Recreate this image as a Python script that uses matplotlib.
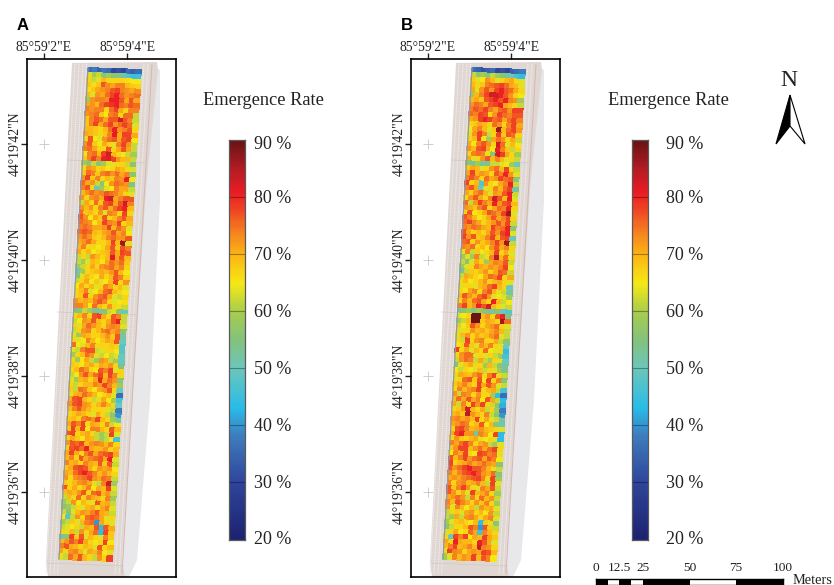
import numpy as np
import matplotlib
matplotlib.use('Agg')
import matplotlib.pyplot as plt
from matplotlib.colors import LinearSegmentedColormap
from matplotlib.collections import LineCollection
from matplotlib.patches import Polygon

plt.rcParams['font.family'] = ['Liberation Serif', 'DejaVu Serif']

W, H = 834, 585

LON_TICKS = [2, 4]
LON_LABELS = ['85°59\'2"E', '85°59\'4"E']
LAT_TICKS = [42, 40, 38, 36]
LAT_LABELS = ['44°19\'42"N', '44°19\'40"N', '44°19\'38"N', '44°19\'36"N']
RATE_TICKS = [90, 80, 70, 60, 50, 40, 30, 20]
SCALE_TICKS = [0, 12.5, 25, 50, 75, 100]
SCALE_LABELS = ['0', '12.5', '25', '50', '75', '100']
SCALE_BLACK = [(0, 6.25), (12.5, 6.25), (25, 25), (75, 25)]

CMAP_STOPS = [(20, '#1d2370'), (30, '#2f469c'), (38, '#3e7cbd'), (43, '#29bce9'),
              (50, '#6cc7bb'), (55, '#84c27c'), (60, '#a9cd4f'), (65, '#f5e914'),
              (70, '#fdb515'), (74, '#f58220'), (78, '#ef4423'), (81, '#ec1c24'),
              (85, '#b51d24'), (90, '#6b1414')]

# my first reading of the cells ran too far towards red, this pulls it back
READ_FROM = [20, 56, 60, 66, 72, 76, 82, 86, 90]
READ_TO = [20, 56, 62, 67, 71, 74, 78, 83, 90]

# emergence rate per cell (row 0 = north end)
EMERGENCE_A = [
    [36, 38, 34, 37, 36, 30, 32, 30, 36, 34, 36],
    [62, 58, 60, 56, 58, 56, 56, 52, 48, 45, 45],
    [66, 60, 62, 70, 66, 66, 66, 66, 65, 64, 64],
    [68, 65, 68, 80, 75, 72, 76, 76, 70, 68, 66],
    [65, 68, 72, 74, 76, 80, 82, 76, 74, 72, 75],
    [70, 62, 74, 72, 78, 82, 84, 78, 74, 76, 78],
    [58, 74, 76, 76, 74, 84, 84, 80, 72, 80, 72],
    [72, 74, 70, 78, 82, 83, 84, 78, 76, 80, 78],
    [76, 74, 76, 76, 66, 78, 82, 72, 66, 76, 76],
    [74, 76, 78, 68, 64, 76, 78, 66, 78, 78, 60],
    [68, 76, 80, 78, 72, 80, 80, 86, 80, 76, 60],
    [68, 76, 82, 72, 78, 82, 74, 78, 82, 78, 62],
    [70, 70, 68, 66, 70, 78, 84, 74, 76, 80, 66],
    [72, 70, 68, 66, 68, 76, 85, 72, 82, 82, 72],
    [66, 80, 64, 62, 74, 78, 80, 72, 80, 82, 64],
    [74, 80, 68, 64, 72, 66, 62, 76, 82, 74, 60],
    [76, 78, 72, 66, 66, 80, 66, 72, 80, 72, 60],
    [64, 76, 78, 70, 82, 86, 70, 66, 64, 60, 58],
    [68, 76, 82, 76, 84, 85, 82, 74, 70, 70, 60],
    [58, 56, 60, 56, 58, 62, 62, 66, 66, 60, 56],
    [66, 74, 72, 66, 68, 64, 66, 72, 70, 66, 62],
    [68, 78, 76, 68, 76, 78, 74, 78, 72, 76, 56],
    [74, 82, 68, 76, 66, 70, 68, 76, 74, 84, 64],
    [78, 72, 74, 60, 56, 64, 74, 78, 76, 74, 54],
    [76, 80, 66, 50, 58, 62, 64, 76, 72, 72, 60],
    [70, 74, 78, 74, 76, 80, 78, 76, 72, 66, 62],
    [74, 66, 74, 76, 72, 84, 86, 72, 76, 80, 80],
    [60, 72, 66, 78, 68, 80, 82, 72, 80, 86, 76],
    [74, 70, 74, 66, 76, 80, 72, 78, 82, 84, 70],
    [78, 68, 70, 66, 74, 62, 76, 74, 66, 82, 66],
    [80, 74, 64, 72, 68, 80, 66, 70, 76, 80, 72],
    [78, 76, 74, 64, 70, 82, 76, 74, 82, 66, 70],
    [76, 78, 76, 72, 72, 74, 82, 70, 78, 74, 62],
    [78, 80, 78, 70, 68, 72, 74, 80, 72, 76, 64],
    [74, 78, 74, 68, 66, 70, 76, 78, 74, 74, 80],
    [72, 74, 78, 72, 66, 66, 70, 82, 70, 88, 62],
    [70, 76, 66, 66, 64, 66, 72, 80, 68, 80, 76],
    [72, 66, 70, 64, 66, 68, 70, 80, 72, 82, 80],
    [60, 66, 60, 74, 70, 66, 70, 85, 72, 80, 70],
    [60, 58, 62, 70, 68, 64, 72, 78, 74, 78, 68],
    [58, 60, 66, 72, 66, 74, 76, 78, 72, 76, 66],
    [52, 58, 66, 68, 70, 72, 70, 74, 80, 70, 64],
    [56, 62, 70, 66, 64, 72, 66, 70, 80, 76, 66],
    [60, 66, 72, 64, 68, 62, 64, 70, 82, 66, 74],
    [64, 72, 66, 70, 62, 66, 76, 72, 66, 70, 62],
    [66, 70, 76, 62, 64, 70, 78, 80, 70, 66, 64],
    [66, 68, 80, 66, 74, 78, 80, 72, 62, 60, 66],
    [74, 70, 72, 70, 76, 80, 76, 66, 62, 64, 65],
    [76, 76, 72, 64, 78, 70, 66, 74, 66, 65, 60],
    [54, 56, 60, 58, 54, 52, 56, 60, 62, 56, 50],
    [66, 70, 76, 66, 80, 82, 72, 66, 80, 76, 60],
    [60, 64, 74, 72, 80, 70, 66, 72, 80, 84, 60],
    [66, 62, 72, 78, 74, 70, 66, 74, 76, 74, 62],
    [60, 66, 74, 76, 66, 70, 76, 78, 72, 76, 56],
    [62, 58, 72, 70, 66, 66, 70, 74, 68, 80, 52],
    [66, 62, 64, 76, 70, 64, 68, 72, 70, 80, 50],
    [78, 64, 62, 70, 76, 66, 66, 66, 68, 66, 48],
    [62, 60, 76, 80, 80, 60, 62, 66, 66, 64, 48],
    [58, 66, 70, 78, 74, 62, 60, 64, 60, 62, 50],
    [66, 58, 64, 72, 60, 58, 74, 72, 60, 58, 50],
    [68, 66, 64, 70, 72, 66, 72, 70, 74, 66, 54],
    [66, 70, 78, 74, 66, 64, 80, 76, 82, 62, 66],
    [60, 64, 74, 80, 72, 78, 82, 70, 82, 76, 66],
    [62, 58, 70, 72, 66, 72, 84, 72, 78, 74, 56],
    [66, 60, 66, 70, 70, 76, 74, 82, 76, 70, 58],
    [68, 60, 78, 76, 68, 64, 72, 74, 80, 66, 50],
    [62, 70, 72, 78, 74, 70, 64, 66, 70, 62, 36],
    [72, 80, 82, 70, 66, 60, 62, 72, 64, 58, 46],
    [74, 80, 82, 74, 72, 66, 70, 76, 70, 66, 50],
    [70, 76, 80, 74, 70, 66, 66, 66, 62, 60, 38],
    [66, 68, 72, 70, 66, 62, 72, 66, 60, 56, 40],
    [68, 70, 66, 76, 78, 74, 82, 70, 66, 58, 52],
    [72, 80, 76, 82, 66, 72, 70, 66, 76, 60, 64],
    [68, 82, 70, 82, 64, 76, 76, 70, 66, 80, 70],
    [80, 82, 66, 70, 72, 66, 60, 58, 60, 82, 62],
    [66, 72, 68, 64, 72, 70, 60, 58, 60, 64, 46],
    [74, 80, 78, 82, 70, 74, 76, 74, 70, 76, 66],
    [66, 80, 82, 78, 84, 72, 70, 70, 74, 66, 70],
    [72, 82, 72, 66, 76, 80, 72, 78, 80, 82, 72],
    [70, 76, 66, 80, 72, 76, 78, 80, 72, 84, 62],
    [76, 70, 72, 66, 76, 72, 70, 80, 68, 80, 60],
    [68, 72, 80, 82, 80, 72, 66, 74, 72, 74, 64],
    [72, 70, 78, 82, 84, 80, 76, 70, 74, 70, 66],
    [74, 66, 74, 76, 78, 82, 74, 72, 78, 76, 60],
    [68, 66, 70, 74, 76, 72, 62, 60, 76, 86, 58],
    [80, 66, 72, 66, 70, 76, 64, 72, 70, 82, 62],
    [70, 72, 70, 74, 80, 66, 78, 80, 70, 74, 60],
    [60, 70, 66, 78, 66, 76, 72, 70, 66, 76, 58],
    [58, 60, 74, 64, 70, 66, 62, 80, 70, 72, 60],
    [56, 58, 60, 66, 62, 70, 72, 66, 72, 76, 62],
    [60, 56, 62, 70, 74, 72, 76, 80, 72, 70, 60],
    [64, 48, 60, 74, 66, 78, 80, 78, 72, 62, 66],
    [58, 60, 68, 62, 70, 76, 78, 40, 72, 66, 62],
    [60, 62, 64, 66, 60, 72, 70, 80, 44, 80, 72],
    [66, 62, 70, 60, 74, 66, 72, 78, 44, 82, 68],
    [52, 56, 82, 68, 80, 62, 70, 66, 62, 76, 68],
    [70, 74, 80, 76, 82, 72, 66, 64, 66, 82, 64],
    [76, 80, 72, 70, 66, 70, 68, 62, 80, 66, 70],
    [72, 66, 74, 76, 70, 62, 72, 70, 76, 64, 62],
    [62, 60, 78, 72, 80, 70, 66, 60, 74, 66, 82],
]

EMERGENCE_B = [
    [36, 34, 32, 34, 36, 30, 32, 30, 34, 36, 38],
    [60, 56, 58, 56, 60, 58, 56, 54, 50, 46, 44],
    [68, 62, 64, 74, 70, 62, 66, 70, 72, 66, 62],
    [70, 66, 68, 76, 78, 80, 82, 78, 72, 70, 62],
    [72, 62, 74, 80, 74, 82, 84, 80, 78, 72, 66],
    [58, 70, 76, 82, 86, 86, 84, 80, 74, 66, 64],
    [70, 72, 68, 80, 82, 84, 80, 84, 76, 74, 58],
    [74, 78, 76, 72, 80, 82, 84, 72, 70, 66, 60],
    [76, 80, 78, 82, 76, 72, 78, 80, 74, 82, 82],
    [78, 76, 82, 80, 66, 74, 82, 78, 76, 80, 80],
    [72, 74, 82, 84, 82, 78, 80, 72, 78, 82, 76],
    [66, 68, 72, 70, 66, 78, 74, 66, 76, 82, 72],
    [64, 72, 76, 70, 62, 68, 88, 70, 78, 82, 74],
    [62, 74, 82, 76, 60, 66, 82, 68, 80, 78, 66],
    [66, 70, 82, 64, 58, 72, 78, 74, 66, 72, 60],
    [72, 64, 76, 80, 74, 66, 86, 78, 62, 70, 64],
    [74, 70, 80, 82, 72, 64, 84, 76, 68, 60, 66],
    [66, 76, 78, 76, 62, 56, 86, 82, 72, 66, 58],
    [72, 62, 66, 74, 80, 70, 76, 70, 62, 66, 60],
    [56, 54, 58, 52, 54, 60, 60, 62, 64, 58, 50],
    [68, 72, 70, 62, 66, 74, 78, 70, 82, 66, 60],
    [72, 82, 70, 74, 72, 66, 80, 76, 84, 74, 62],
    [76, 80, 76, 66, 78, 72, 74, 82, 78, 80, 56],
    [82, 66, 70, 48, 74, 66, 64, 72, 76, 84, 60],
    [76, 80, 72, 50, 62, 66, 76, 70, 78, 82, 52],
    [72, 66, 74, 78, 70, 62, 74, 72, 80, 84, 60],
    [66, 74, 80, 72, 66, 76, 86, 80, 70, 84, 62],
    [78, 60, 74, 82, 76, 72, 84, 74, 80, 82, 70],
    [74, 72, 68, 76, 80, 66, 72, 78, 76, 84, 66],
    [66, 80, 64, 66, 72, 80, 78, 74, 82, 88, 62],
    [80, 76, 70, 64, 66, 72, 80, 72, 76, 82, 66],
    [78, 82, 76, 72, 66, 70, 74, 80, 74, 82, 60],
    [76, 74, 78, 76, 72, 70, 82, 76, 78, 84, 56],
    [80, 72, 66, 70, 66, 72, 80, 74, 82, 84, 62],
    [82, 74, 80, 68, 70, 76, 82, 70, 80, 82, 50],
    [78, 80, 66, 74, 68, 72, 76, 82, 74, 88, 60],
    [76, 74, 78, 66, 70, 64, 74, 80, 72, 76, 66],
    [62, 76, 60, 68, 64, 66, 70, 82, 66, 72, 62],
    [58, 62, 58, 76, 60, 62, 76, 87, 70, 78, 66],
    [60, 56, 62, 72, 66, 58, 72, 76, 74, 80, 60],
    [58, 62, 66, 76, 72, 70, 74, 72, 76, 82, 64],
    [54, 60, 68, 66, 70, 74, 66, 72, 80, 78, 60],
    [60, 72, 70, 66, 64, 72, 78, 76, 82, 66, 72],
    [66, 70, 64, 66, 70, 74, 66, 70, 72, 66, 62],
    [62, 66, 66, 62, 70, 72, 78, 82, 70, 66, 50],
    [66, 64, 72, 76, 66, 76, 80, 70, 62, 60, 52],
    [70, 80, 74, 70, 78, 82, 74, 62, 64, 62, 58],
    [66, 76, 70, 78, 80, 72, 66, 84, 70, 60, 64],
    [76, 82, 70, 74, 84, 80, 86, 70, 66, 62, 60],
    [54, 56, 58, 54, 58, 56, 54, 52, 56, 50, 48],
    [62, 64, 66, 90, 90, 70, 74, 66, 80, 84, 54],
    [58, 60, 70, 90, 90, 68, 72, 70, 66, 88, 78],
    [60, 64, 68, 80, 74, 66, 72, 74, 78, 66, 62],
    [66, 62, 66, 74, 70, 72, 68, 72, 76, 70, 60],
    [62, 70, 74, 66, 72, 68, 70, 74, 78, 62, 60],
    [66, 60, 82, 66, 74, 76, 66, 66, 72, 60, 56],
    [64, 66, 80, 68, 62, 74, 70, 76, 66, 62, 50],
    [82, 66, 72, 62, 70, 66, 78, 64, 62, 66, 44],
    [66, 74, 78, 78, 62, 66, 62, 66, 60, 58, 46],
    [60, 74, 78, 76, 60, 72, 60, 58, 66, 62, 50],
    [56, 62, 68, 72, 66, 66, 58, 70, 60, 56, 52],
    [64, 60, 66, 64, 62, 70, 60, 66, 62, 58, 54],
    [66, 72, 70, 68, 74, 78, 66, 76, 82, 66, 60],
    [62, 66, 78, 80, 68, 80, 64, 82, 66, 76, 56],
    [68, 72, 76, 70, 66, 82, 72, 80, 74, 62, 60],
    [66, 76, 70, 74, 76, 82, 66, 70, 72, 60, 46],
    [74, 60, 76, 74, 66, 74, 66, 66, 58, 44, 36],
    [70, 78, 72, 80, 72, 76, 64, 80, 72, 60, 44],
    [72, 60, 76, 66, 82, 74, 82, 66, 60, 56, 42],
    [66, 68, 74, 86, 70, 66, 72, 60, 66, 58, 38],
    [70, 72, 68, 87, 74, 70, 66, 76, 60, 56, 40],
    [74, 76, 72, 74, 70, 82, 66, 72, 62, 60, 52],
    [72, 74, 78, 76, 66, 70, 80, 64, 70, 56, 50],
    [66, 80, 82, 76, 70, 72, 74, 70, 68, 66, 62],
    [72, 82, 84, 74, 74, 52, 76, 72, 64, 82, 44],
    [66, 74, 68, 66, 70, 72, 62, 64, 66, 62, 44],
    [76, 72, 78, 82, 76, 66, 72, 74, 60, 58, 62],
    [68, 74, 82, 82, 70, 74, 78, 72, 78, 82, 66],
    [64, 76, 72, 82, 66, 64, 82, 80, 76, 78, 62],
    [80, 70, 76, 82, 74, 78, 80, 72, 80, 76, 64],
    [82, 66, 70, 72, 76, 72, 74, 78, 74, 72, 56],
    [80, 74, 78, 82, 84, 80, 80, 76, 70, 62, 60],
    [76, 70, 76, 80, 82, 84, 80, 74, 72, 78, 56],
    [72, 74, 72, 76, 78, 80, 82, 76, 66, 82, 58],
    [76, 66, 74, 76, 70, 72, 76, 70, 60, 82, 62],
    [80, 68, 76, 82, 74, 66, 62, 76, 72, 80, 60],
    [80, 74, 66, 72, 62, 82, 70, 72, 76, 66, 58],
    [72, 74, 78, 74, 60, 76, 66, 78, 70, 74, 60],
    [76, 70, 80, 76, 72, 66, 74, 68, 76, 66, 58],
    [74, 62, 76, 70, 64, 70, 60, 74, 70, 72, 62],
    [60, 66, 68, 62, 72, 74, 66, 70, 64, 74, 60],
    [60, 58, 72, 60, 74, 76, 72, 66, 72, 76, 62],
    [58, 62, 68, 70, 66, 64, 70, 44, 68, 62, 56],
    [56, 60, 66, 66, 70, 80, 76, 40, 80, 68, 60],
    [62, 66, 72, 64, 66, 78, 72, 46, 76, 70, 66],
    [66, 50, 82, 76, 82, 64, 72, 70, 82, 72, 68],
    [72, 66, 84, 72, 70, 70, 66, 84, 80, 72, 62],
    [70, 76, 82, 70, 72, 76, 70, 86, 76, 74, 66],
    [66, 82, 76, 74, 66, 72, 74, 72, 82, 80, 70],
    [58, 62, 76, 70, 74, 72, 82, 70, 80, 76, 64],
]

cmap = LinearSegmentedColormap.from_list(
    'emergence', [((v - 20) / 70, c) for v, c in CMAP_STOPS])


def axes_px(fig, left, top, right, bottom):
    return fig.add_axes([left / W, 1 - bottom / H, (right - left) / W, (bottom - top) / H])


def draw_panel(fig, left, rates, letter):
    ax = axes_px(fig, left, 59, left + 149, 577)
    # arcsec scale: 41.5 px per lon second, 58 px per lat second
    ax.set_xlim(2 - 17 / 41.5, 2 + 132 / 41.5)
    ax.set_ylim(36 - 85 / 58, 42 + 85 / 58)

    def to_xy(pts):
        pts = np.asarray(pts, dtype=float)
        return np.column_stack([2 + (pts[:, 0] - 44) / 41.5, 42 - (pts[:, 1] - 144) / 58])

    # field background, positions in panel A pixels
    grey = [(148, 64), (160, 70), (160, 200), (150, 400), (137, 560), (129, 577), (112, 577)]
    tan = [(72, 63), (157, 62), (158, 70), (146, 190), (132, 400), (122, 560), (125, 577),
           (48, 577), (46, 562)]
    ax.add_patch(Polygon(to_xy(grey), fc='#e8e8ea', ec='none', zorder=1))
    ax.add_patch(Polygon(to_xy(tan), fc='#e0d7d3', ec='none', zorder=1))

    # drill rows either side of the strip
    segs = []
    for off in [-13, -9, -5, -1 - 0.5]:
        segs.append(to_xy([(88 + off, 64), (59 + off, 574)]))
    for off in [3, 7]:
        segs.append(to_xy([(141 + off, 64), (112 + off, 574)]))
    ax.add_collection(LineCollection(segs, colors='#f1eeec', linewidths=0.8,
                                     linestyles=(0, (1.2, 0.8)), zorder=2))
    side = [to_xy([(152, 64), (122, 574)])]
    ax.add_collection(LineCollection(side, colors='#d6b5b0', linewidths=0.7, zorder=2))
    cross = [to_xy([(67, 160), (147, 163)]), to_xy([(57, 312), (137, 315)]),
             to_xy([(47, 563), (124, 566)])]
    ax.add_collection(LineCollection(cross, colors='#cfc8c4', linewidths=0.5, zorder=2))

    # sheared cell grid of the sown strip
    c = np.interp(np.asarray(rates, dtype=float), READ_FROM, READ_TO)
    nrow, ncol = c.shape
    jj, ii = np.meshgrid(np.arange(nrow + 1), np.arange(ncol + 1), indexing='ij')
    px_x = 88 + ii * 53 / ncol - jj * 29 / nrow
    px_y = 68 + ii * 2 / ncol + jj * 491 / nrow
    xy = to_xy(np.column_stack([px_x.ravel(), px_y.ravel()]))
    ax.pcolormesh(xy[:, 0].reshape(px_x.shape), xy[:, 1].reshape(px_y.shape), c,
                  cmap=cmap, vmin=20, vmax=90, shading='flat', zorder=3,
                  edgecolors='face', linewidth=0.1)
    ax.plot(*to_xy([(88, 68), (59, 559)]).T, color='#8f97b5', lw=0.9, zorder=4)

    # graticule crosses
    ax.plot([2] * 4, LAT_TICKS, ls='none', marker='+', ms=7, mew=0.6, color='#c8c8c8', zorder=2)

    ax.xaxis.tick_top()
    ax.set_xticks(LON_TICKS, LON_LABELS)
    ax.set_yticks(LAT_TICKS, LAT_LABELS)
    ax.tick_params(axis='x', length=4, width=1, labelsize=9.8, pad=-0.5, colors='#222222')
    ax.tick_params(axis='y', length=4, width=1, labelsize=9.8, pad=-0.5, colors='#222222')
    for t in ax.get_yticklabels():
        t.set_rotation(90)
        t.set_va('center')
    for s in ax.spines.values():
        s.set_linewidth(1.2)
    fig.text((left - 10) / W, 1 - 30 / H, letter, fontsize=12, fontweight='bold',
             family='Liberation Sans', va='baseline', ha='left')
    return ax


def draw_colorbar(fig, left, title_x):
    ax = axes_px(fig, left, 140, left + 15.5, 539.5)
    levels = np.linspace(20, 90, 281)
    ax.imshow(levels[::-1, None], cmap=cmap, vmin=20, vmax=90, aspect='auto',
              extent=[0, 1, 20, 90], interpolation='bilinear')
    ax.hlines(RATE_TICKS[1:-1], 0, 1, colors='black', alpha=0.35, lw=0.8)
    ax.set_xticks([])
    ax.set_yticks([])
    for s in ax.spines.values():
        s.set_linewidth(0.9)
        s.set_color('#5a5a5a')
    for v in RATE_TICKS:
        # end labels sit slightly inside the bar ends
        dy = -4 if v == 90 else (0 if v == 20 else -1)
        ax.annotate(f'{v} %', xy=(1, v), xycoords=('axes fraction', 'data'),
                    xytext=(left_gap[left], dy), textcoords='offset pixels',
                    ha='left', va='center', fontsize=13, color='#222222', annotation_clip=False)
    fig.text(title_x / W, 1 - 100 / H, 'Emergence Rate', fontsize=13.2, color='#222222',
             ha='left', va='center')


left_gap = {229: 10, 632: 18}

fig = plt.figure(figsize=(W / 100, H / 100), dpi=100, facecolor='white')

draw_panel(fig, 27, EMERGENCE_A, 'A')
draw_panel(fig, 411, EMERGENCE_B, 'B')
draw_colorbar(fig, 229, 203)
draw_colorbar(fig, 632, 608)

# scale bar, x in metres (cut by the bottom edge like the original)
sb = axes_px(fig, 596, 579, 783, 585)
sb.set_xlim(0, 100)
sb.set_ylim(0, 1)
sb.broken_barh(SCALE_BLACK, (0, 1), facecolors='black')
sb.set_xticks([])
sb.set_yticks([])
for s in sb.spines.values():
    s.set_linewidth(1)
    s.set_color('black')
for v, lab in zip(SCALE_TICKS, SCALE_LABELS):
    sb.annotate(lab, xy=(v, 1), xycoords=('data', 'axes fraction'), xytext=(0, 11),
                textcoords='offset pixels', ha='center', va='center', fontsize=9.6,
                color='#222222', annotation_clip=False)
fig.text(793 / W, 1 - 580 / H, 'Meters', fontsize=10.4, color='#222222', ha='left', va='center')

# north arrow on a full-figure pixel overlay
ov = fig.add_axes([0, 0, 1, 1], facecolor='none')
ov.set_xlim(0, W)
ov.set_ylim(H, 0)
ov.axis('off')
ov.add_patch(Polygon([(790, 95), (776, 144), (790, 126)], fc='black', ec='black', lw=0.8))
ov.add_patch(Polygon([(790, 95), (805, 144), (790, 126)], fc='white', ec='black', lw=0.8))
ov.text(789, 81, 'N', fontsize=17, ha='center', va='center', color='#222222')

fig.savefig('out.png', dpi=100)
